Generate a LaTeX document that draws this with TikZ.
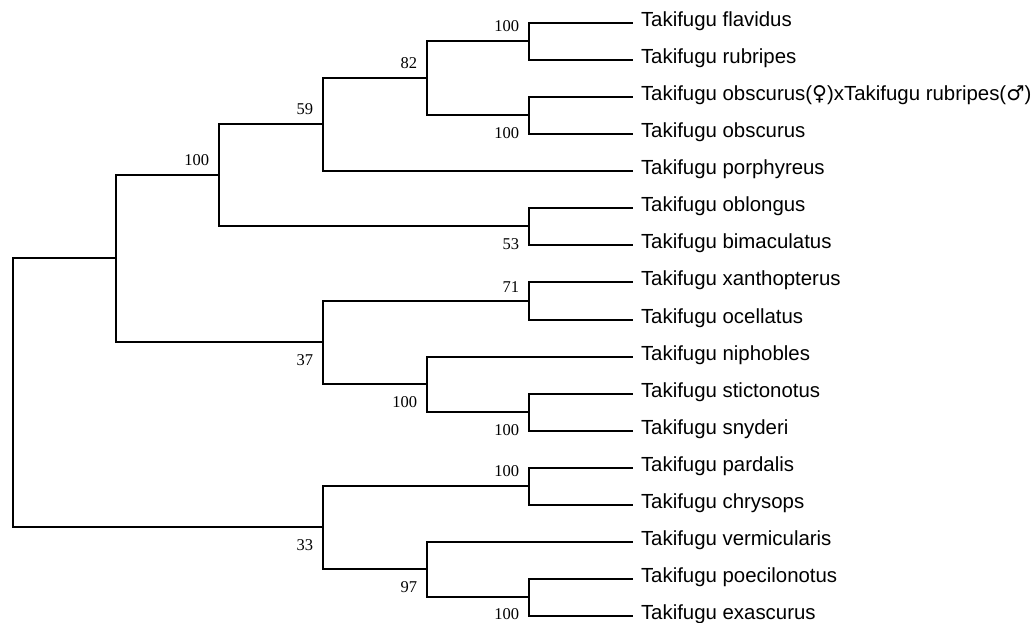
\documentclass[tikz,border=0pt]{standalone}
\usepackage{fontspec}
\setmainfont{Liberation Serif}
\newfontfamily\taxfont{Liberation Sans}
\newfontfamily\sexfont{DejaVu Sans}
\usetikzlibrary{positioning}

\begin{document}
\begin{tikzpicture}[x=1pt,y=-1pt,line width=2pt,
        taxon/.style={anchor=west,inner xsep=7pt,inner ysep=0pt,text height=7.5pt,text depth=0pt,
                      font=\taxfont\fontsize{20.4}{24}\selectfont},
        boot/.style={inner sep=0pt,font=\fontsize{16.5}{18}\selectfont}]
        \useasboundingbox (0,0) rectangle (1033,622);

        % taxa
        \node[taxon]    (flavidus)      at (633,23)    {Takifugu flavidus};
        \node[taxon]    (rubripes)      at (633,60)    {Takifugu rubripes};
        \node[taxon]    (hybrid)        at (633,97)    {Takifugu obscurus({\sexfont ♀})xTakifugu rubripes({\sexfont ♂})};
        \node[taxon]    (obscurus)      at (633,134)   {Takifugu obscurus};
        \node[taxon]    (porphyreus)    at (633,171)   {Takifugu porphyreus};
        \node[taxon]    (oblongus)      at (633,208)   {Takifugu oblongus};
        \node[taxon]    (bimaculatus)   at (633,245)   {Takifugu bimaculatus};
        \node[taxon]    (xanthopterus)  at (633,282)   {Takifugu xanthopterus};
        \node[taxon]    (ocellatus)     at (633,320)   {Takifugu ocellatus};
        \node[taxon]    (niphobles)     at (633,357)   {Takifugu niphobles};
        \node[taxon]    (stictonotus)   at (633,394)   {Takifugu stictonotus};
        \node[taxon]    (snyderi)       at (633,431)   {Takifugu snyderi};
        \node[taxon]    (pardalis)      at (633,468)   {Takifugu pardalis};
        \node[taxon]    (chrysops)      at (633,505)   {Takifugu chrysops};
        \node[taxon]    (vermicularis)  at (633,542)   {Takifugu vermicularis};
        \node[taxon]    (poecilonotus)  at (633,579)   {Takifugu poecilonotus};
        \node[taxon]    (exascurus)     at (633,616)   {Takifugu exascurus};

        % internal nodes
        \coordinate (n_1)  at (529,41);
        \coordinate (n_2)  at (529,115);
        \coordinate (n_3)  at (427,78);
        \coordinate (n_4)  at (323,124);
        \coordinate (n_5)  at (529,226);
        \coordinate (n_6)  at (219,175);
        \coordinate (n_7)  at (529,301);
        \coordinate (n_8)  at (529,412);
        \coordinate (n_9)  at (427,384);
        \coordinate (n_10) at (323,342);
        \coordinate (n_11) at (116,258);
        \coordinate (n_12) at (529,486);
        \coordinate (n_13) at (529,597);
        \coordinate (n_14) at (427,569);
        \coordinate (n_15) at (323,527);
        \coordinate (root) at (13,392);

        % bootstrap values
        \node[boot] (b_1)  [above left=8pt and 9pt of n_1]     {100};
        \node[boot] (b_2)  [below left=11.5pt and 9pt of n_2]  {100};
        \node[boot] (b_3)  [above left=8pt and 9pt of n_3]     {82};
        \node[boot] (b_4)  [above left=8pt and 9pt of n_4]     {59};
        \node[boot] (b_5)  [below left=11.5pt and 9pt of n_5]  {53};
        \node[boot] (b_6)  [above left=8pt and 9pt of n_6]     {100};
        \node[boot] (b_7)  [above left=8pt and 9pt of n_7]     {71};
        \node[boot] (b_8)  [below left=11.5pt and 9pt of n_8]  {100};
        \node[boot] (b_9)  [below left=11.5pt and 9pt of n_9]  {100};
        \node[boot] (b_10) [below left=11.5pt and 9pt of n_10] {37};
        \node[boot] (b_12) [above left=8pt and 9pt of n_12]    {100};
        \node[boot] (b_13) [below left=10.5pt and 9pt of n_13] {100};
        \node[boot] (b_14) [below left=11.5pt and 9pt of n_14] {97};
        \node[boot] (b_15) [below left=11.5pt and 9pt of n_15] {33};

        % branches
        \draw (n_1) |- (flavidus.west)  (n_1) |- (rubripes.west)
              (n_2) |- (hybrid.west)    (n_2) |- (obscurus.west)
              (n_3) |- (n_1)            (n_3) |- (n_2)
              (n_4) |- (n_3)            (n_4) |- (porphyreus.west)
              (n_5) |- (oblongus.west)  (n_5) |- (bimaculatus.west)
              (n_6) |- (n_4)            (n_6) |- (n_5)
              (n_7) |- (xanthopterus.west) (n_7) |- (ocellatus.west)
              (n_8) |- (stictonotus.west)  (n_8) |- (snyderi.west)
              (n_9) |- (niphobles.west)    (n_9) |- (n_8)
              (n_10) |- (n_7)           (n_10) |- (n_9)
              (n_11) |- (n_6)           (n_11) |- (n_10)
              (n_12) |- (pardalis.west) (n_12) |- (chrysops.west)
              (n_13) |- (poecilonotus.west) (n_13) |- (exascurus.west)
              (n_14) |- (vermicularis.west) (n_14) |- (n_13)
              (n_15) |- (n_12)          (n_15) |- (n_14)
              (root) |- (n_11)          (root) |- (n_15);
\end{tikzpicture}
\end{document}
